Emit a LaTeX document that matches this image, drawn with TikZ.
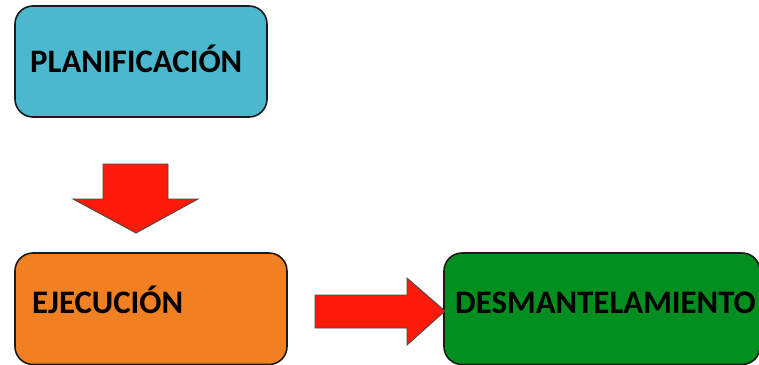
\documentclass[tikz,border=0pt]{standalone}
\usepackage{fontspec}
\setmainfont{Carlito}
\definecolor{cplan}{HTML}{4BB8CE}
\definecolor{cejec}{HTML}{F08022}
\definecolor{cdesm}{HTML}{038F1F}
\definecolor{carrow}{HTML}{FF1A0A}
\definecolor{cedge}{HTML}{1A1A1A}
\begin{document}
\begin{tikzpicture}[x=1pt,y=-1pt,
  box/.style={draw=cedge, line width=1.6pt, rounded corners=18pt},
  lbl/.style={anchor=base west, inner sep=0pt, font=\fontsize{32.8}{33}\selectfont\bfseries, text=black},
  blockarrow/.style={draw=cedge!80, line width=0.9pt, fill=carrow, line join=miter}]
\useasboundingbox (0,0) rectangle (759,364);
% boxes
\draw[box, fill=cplan] (15,6) rectangle (267,117);
\draw[box, fill=cejec] (15,253) rectangle (287,364.5);
\draw[box, fill=cdesm] (444,253) rectangle (760,364.5);
% labels
\node[lbl] (tplan) at (30,72) {PLANIFICACIÓN};
\node[lbl] (tejec) at (32,313) {EJECUCIÓN};
\node[lbl] (tdesm) at (455,313) {DESMANTELAMIENTO};
% down arrow
\draw[blockarrow] (103,164) -- (168,164) -- (168,199) -- (198,199) -- (136,233) -- (73,199) -- (103,199) -- cycle;
% right arrow
\draw[blockarrow] (315,295) -- (407,295) -- (407,278) -- (445,311) -- (407,345) -- (407,328) -- (315,328) -- cycle;
\end{tikzpicture}
\end{document}
